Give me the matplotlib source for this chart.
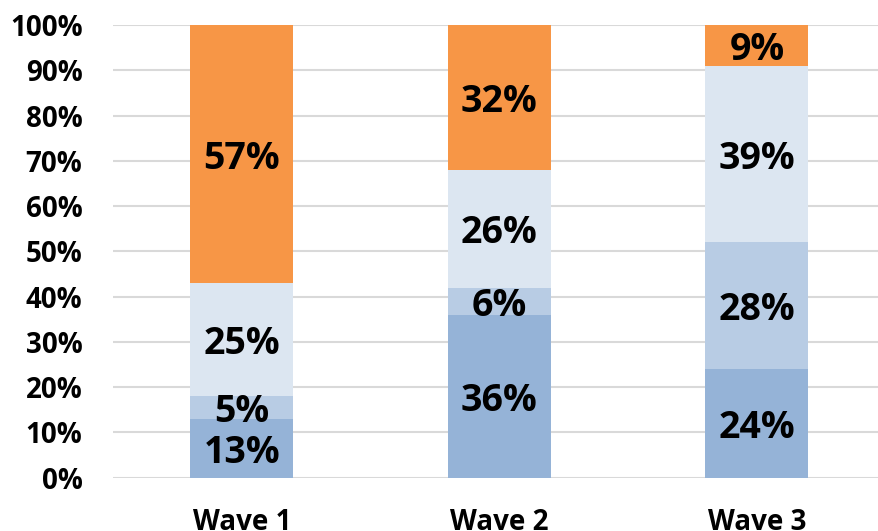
import matplotlib.pyplot as plt
import numpy as np

plt.rcParams['font.family'] = ['Open Sans', 'DejaVu Sans']
plt.rcParams['font.weight'] = 'bold'
plt.rcParams['font.stretch'] = 'normal'

waves = ["Wave 1", "Wave 2", "Wave 3"]
seg1 = [13, 36, 24]
seg2 = [5, 6, 28]
seg3 = [25, 26, 39]
seg4 = [57, 32, 9]

colors = ['#95b3d7', '#b8cce4', '#dce6f1', '#f79646']

W, H = 879, 531
fig = plt.figure(figsize=(W / 100, H / 100), dpi=100)
ax = fig.add_axes([113 / W, (H - 477.7) / H, (885.75 - 113) / W, (477.7 - 25) / H])

x = np.arange(len(waves))
bottom = np.zeros(len(waves))
for vals, c in zip([seg1, seg2, seg3, seg4], colors):
    bars = ax.bar(x, vals, width=0.4, bottom=bottom, color=c, zorder=3)
    for xi, b, v in zip(x, bottom, vals):
        ax.text(xi, b + v / 2, f"{v}%", ha='center', va='center_baseline',
                fontsize=27, fontweight='bold', color='black', zorder=4)
    bottom += np.array(vals)

ax.set_xlim(-0.5, 2.5)
ax.set_ylim(0, 100)
ax.set_yticks(range(0, 101, 10))
ax.set_yticklabels([f"{v}%" for v in range(0, 101, 10)])
ax.set_xticks(x)
ax.set_xticklabels(waves)
ax.tick_params(axis='y', length=0, pad=22, labelsize=20)
ax.tick_params(axis='x', length=0, pad=22, labelsize=20)
for lab in ax.get_xticklabels() + ax.get_yticklabels():
    lab.set_fontweight('bold')
ax.grid(axis='y', color='#d9d9d9', linewidth=1.5, zorder=0)
for s in ax.spines.values():
    s.set_visible(False)

fig.savefig('out.png', dpi=100)
